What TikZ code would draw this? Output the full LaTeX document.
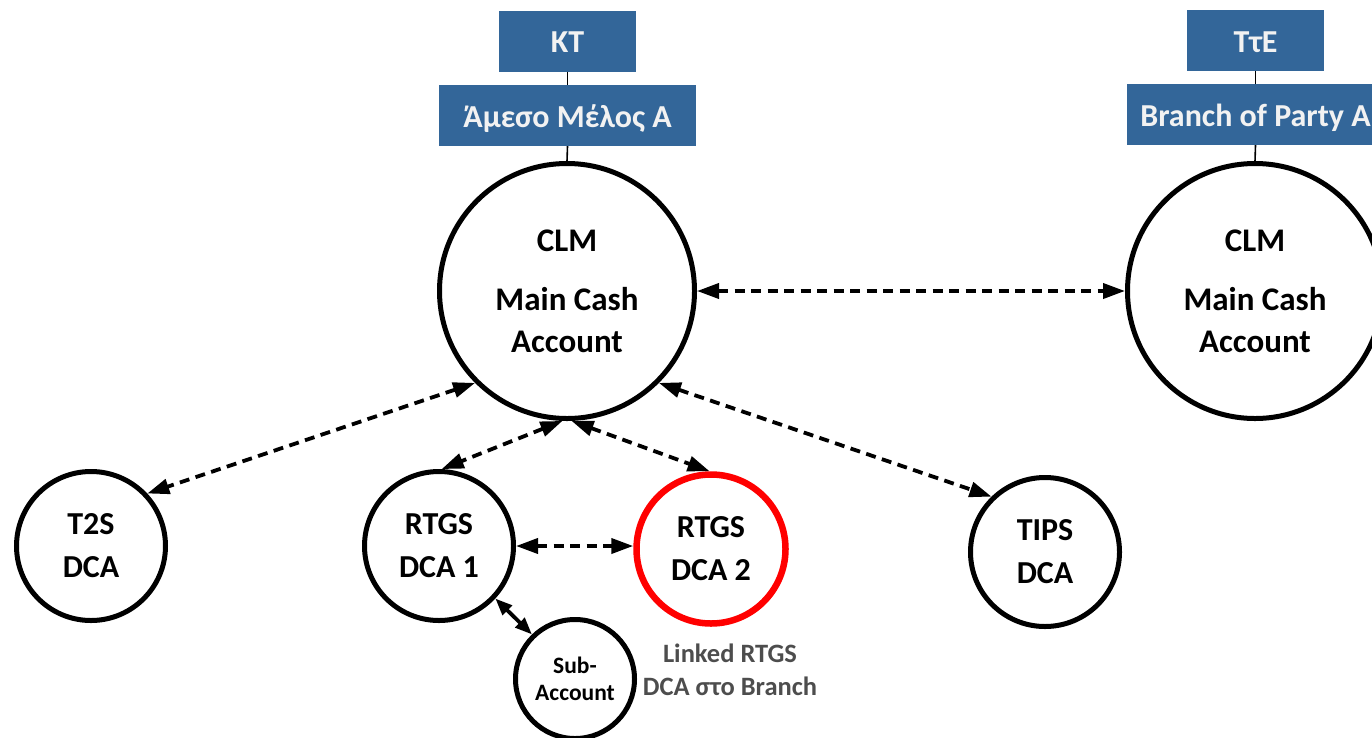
\documentclass[tikz,border=0pt]{standalone}
\usepackage{fontspec}
\setmainfont{Carlito}
\usetikzlibrary{arrows.meta}
\definecolor{boxblue}{RGB}{51,102,153}
\definecolor{boxtext}{RGB}{242,242,242}
\definecolor{notegray}{RGB}{77,77,77}
\tikzset{
  hdr/.style={rectangle, fill=boxblue, text=boxtext, font=\bfseries\fontsize{32}{37}\selectfont, inner sep=0pt, minimum height=61pt, text height=23pt, text depth=0pt},
  bigacc/.style={circle, draw=black, line width=5pt, minimum size=255pt, inner sep=0pt, align=center, font=\bfseries\fontsize{33}{42}\selectfont},
  acc/.style={circle, draw=black, line width=5pt, minimum size=149pt, inner sep=0pt, align=center, font=\bfseries\fontsize{32}{43}\selectfont},
  subacc/.style={circle, draw=black, line width=5pt, minimum size=119pt, inner sep=0pt, align=center, font=\bfseries\fontsize{23.5}{27}\selectfont},
  link/.style={line width=1.6pt, draw=black},
  dlink/.style={line width=3.8pt, dash pattern=on 10pt off 6.5pt, {Triangle[length=22pt,width=15pt]}-{Triangle[length=22pt,width=15pt]}},
  slink/.style={line width=3.8pt, {Triangle[length=17pt,width=13pt]}-{Triangle[length=17pt,width=13pt]}},
}
\begin{document}
\begin{tikzpicture}[x=1pt,y=-1pt]
\useasboundingbox (0,0) rectangle (1372,737);
\clip (0,0) rectangle (1372,737);

% header boxes
\node[hdr, minimum width=137pt] (kt) at (567.5,41) {KT};
\node[hdr, minimum width=257pt] (amesos) at (567.5,115.5) {Άμεσο Μέλος Α};
\node[hdr, minimum width=137pt] (tte) at (1255.5,40.5) {ΤτΕ};
\node[hdr, minimum width=257pt] (branch) at (1255.5,114.5) {Branch of Party A};

% accounts
\node[bigacc] (main) at (567,291) {CLM\\[17pt]Main Cash\\Account};
\node[bigacc] (mainr) at (1255,291) {CLM\\[17pt]Main Cash\\Account};
\node[acc] (t2s) at (91,546) {T2S\\DCA};
\node[acc] (rtgs1) at (439,546) {RTGS\\DCA 1};
\node[acc, draw=red, line width=6.5pt] (rtgs2) at (711,549) {RTGS\\DCA 2};
\node[acc] (tips) at (1045,552) {TIPS\\DCA};
\node[subacc] (sub) at (575,679) {Sub-\\Account};
\node[align=center, text=notegray, font=\bfseries\fontsize{26.5}{33}\selectfont] (note) at (730,670) {Linked RTGS\\DCA στο Branch};

% header connectors
\draw[link] (kt.south) -- (amesos.north);
\draw[link] (amesos.south) -- (main.north);
\draw[link] (tte.south) -- (branch.north);
\draw[link] (branch.south) -- (mainr.north);

% account connectors
\draw[dlink] (main.east) -- (mainr.west);
\draw[dlink] (main.-135) -- (t2s.43);
\draw[dlink] (main.-92) -- (rtgs1.88);
\draw[dlink] (main.-88) -- (rtgs2.91);
\draw[dlink] (main.-45) -- (tips.134);
\draw[dlink] (rtgs1.east) -- (rtgs1.east -| rtgs2.west);
\draw[slink] (rtgs1.-43) -- (sub.134);
\end{tikzpicture}
\end{document}
